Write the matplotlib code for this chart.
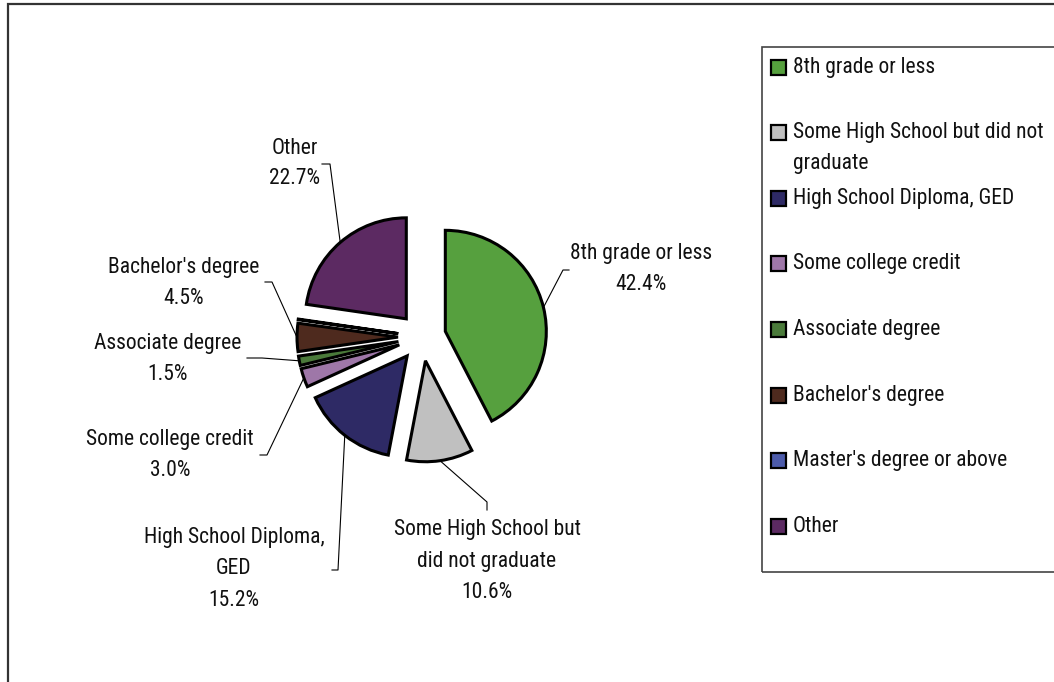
import matplotlib.pyplot as plt
import matplotlib.font_manager as fm
import numpy as np
from matplotlib.patches import Rectangle

categories = ["8th grade or less", "Some High School but did not graduate",
              "High School Diploma, GED", "Some college credit",
              "Associate degree", "Bachelor's degree",
              "Master's degree or above", "Other"]
shares = [42.4, 10.6, 15.2, 3.0, 1.5, 4.5, 0.1, 22.7]
colors = ["#56a03e", "#c0c0c0", "#2e2a65", "#9e77a8",
          "#4a7a3a", "#4e2a1e", "#4c5baa", "#5c2a62"]

# slice label text (Master's has none) and their spots: text x, first line y,
# leader elbow, leader tick end (all in pixels from the top-left)
label_text = ["8th grade or less\n42.4%", "Some High School but\ndid not graduate\n10.6%",
              "High School Diploma,\nGED\n15.2%", "Some college credit\n3.0%",
              "Associate degree\n1.5%", "Bachelor's degree\n4.5%", None, "Other\n22.7%"]
label_xy = [(641, 254), (487, 530), (234, 538), (170, 440),
            (168, 343), (184, 267), None, (295, 148)]
elbow = [(563, 270), (487, 502), (338, 570), (267, 455),
         (262, 358), (272, 282), None, (330, 164)]
tick_end = [(569, 270), (487, 510), (332, 570), (260, 455),
            (247, 358), (265, 282), None, (322, 164)]

legend_lines = ["8th grade or less", "Some High School but did not\ngraduate",
                "High School Diploma, GED", "Some college credit",
                "Associate degree", "Bachelor's degree",
                "Master's degree or above", "Other"]

W, H = 1054, 682
names = {f.name for f in fm.fontManager.ttflist}
font = next((n for n in ["Nimbus Sans Narrow", "Liberation Sans Narrow", "Arial Narrow",
                         "Roboto Condensed", "Archivo Narrow"] if n in names),
            "Liberation Sans")
plt.rcParams["font.family"] = [font, "DejaVu Sans"]
LINE = 31


def fy(y):
    return H - y


fig = plt.figure(figsize=(W / 100, H / 100), dpi=100)

# size the font so a legend entry has the wanted width
probe = fig.text(0, 0, "8th grade or less", fontsize=15)
fig.canvas.draw()
FS = 15 * 143 / probe.get_window_extent().width
probe.remove()

ax = fig.add_axes([0, 0, 1, 1])

# outer chart frame, running off the right and bottom edges
ax.add_patch(Rectangle((8, fy(H + 20)), W + 20, H + 16, fill=False,
                       edgecolor="#333333", linewidth=1.6))

center = (422, fy(337))
radius = 101
explode = [24] * len(shares)
wedges, _ = ax.pie(shares, colors=colors, explode=explode, startangle=90,
                   counterclock=False, center=center, radius=radius,
                   wedgeprops=dict(edgecolor="black", linewidth=2.2),
                   frame=True)
ax.set_xlim(0, W)
ax.set_ylim(0, H)
ax.set_aspect("equal")
ax.axis("off")

# data labels with elbowed leader lines from the middle of each arc
for i, w in enumerate(wedges):
    if label_text[i] is None:
        continue
    mid = np.deg2rad((w.theta1 + w.theta2) / 2)
    cx, cy = w.center
    sx = cx + w.r * np.cos(mid)
    sy = cy + w.r * np.sin(mid)
    ex, ey = elbow[i]
    kx, ky = tick_end[i]
    ax.plot([sx, ex, kx], [sy, fy(ey), fy(ky)], color="black", linewidth=0.8)
    tx, ty = label_xy[i]
    for j, line in enumerate(label_text[i].split("\n")):
        ax.text(tx, fy(ty + j * LINE), line, ha="center", va="center",
                fontsize=FS, color="#111111")

# legend box, also running off the right edge
ax.add_patch(Rectangle((762, fy(572)), W, 572 - 47, fill=False,
                       edgecolor="#444444", linewidth=1.2))
for k, (lab, c) in enumerate(zip(legend_lines, colors)):
    y = 67 + k * 65.6
    ax.add_patch(Rectangle((771, fy(y + 7.5)), 15, 15, facecolor=c,
                           edgecolor="black", linewidth=1.6))
    for j, line in enumerate(lab.split("\n")):
        ax.text(793, fy(y + j * LINE), line, ha="left", va="center",
                fontsize=FS, color="#111111")

fig.savefig("out.png", dpi=100)
